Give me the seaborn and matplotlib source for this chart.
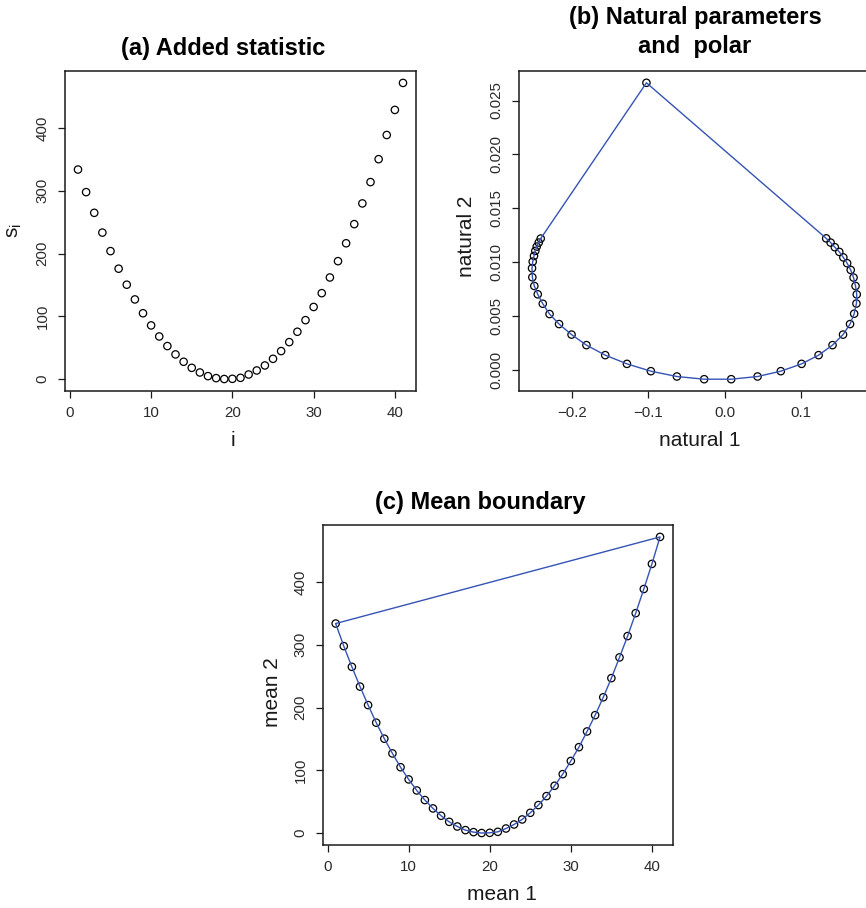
import numpy as np
import pandas as pd
import matplotlib
matplotlib.use("Agg")
import matplotlib.pyplot as plt
import seaborn as sns

# ---------------- data ----------------
idx = list(range(1, 42))
s_vals = [334, 298, 265, 233.5, 204, 176, 150.5, 127, 105, 85.6,
          68, 52.7, 39.4, 27.7, 18, 10.6, 4.8, 1.6, 0.2, 0.5,
          2.1, 7.4, 13.8, 21.8, 32.4, 44.7, 59, 75.5, 94, 115,
          137, 162, 188, 216.5, 247, 280, 314, 350.5, 389, 429, 472]

nat1 = [-0.2413, -0.2439, -0.2465, -0.2484, -0.2501, -0.2518, -0.2527, -0.2523,
        -0.2497, -0.2452, -0.2386, -0.2297, -0.2172, -0.2008, -0.1813, -0.1566,
        -0.1281, -0.0967, -0.0625, -0.0267,
        0.0088, 0.0434, 0.0739, 0.1012, 0.1235, 0.1418, 0.1556, 0.1648,
        0.1702, 0.1732, 0.1736, 0.1720, 0.1694, 0.1657, 0.1610, 0.1560,
        0.1507, 0.1448, 0.1393, 0.1335,
        -0.1025]
nat2 = [0.012203, 0.011831, 0.011460, 0.011060, 0.010595, 0.010065, 0.009452, 0.008616,
        0.007807, 0.007036, 0.006162, 0.005205, 0.004275, 0.003299, 0.002324, 0.001394,
        0.000586, -0.000093, -0.000586, -0.000836,
        -0.000836, -0.000586, -0.000093, 0.000586, 0.001394, 0.002324, 0.003299, 0.004275,
        0.005233, 0.006180, 0.007026, 0.007807, 0.008588, 0.009294, 0.009917, 0.010456,
        0.010967, 0.011404, 0.011831, 0.012222,
        0.026646]

x_ticks_a = [0, 10, 20, 30, 40]
y_ticks_a = [0, 100, 200, 300, 400]
x_ticks_b = [-0.2, -0.1, 0.0, 0.1]
y_ticks_b = [0.000, 0.005, 0.010, 0.015, 0.020, 0.025]

# ---------------- style ----------------
sns.set_style("ticks")
plt.rcParams['font.family'] = ['Liberation Sans', 'DejaVu Sans']
plt.rcParams['mathtext.fontset'] = 'custom'
plt.rcParams['mathtext.rm'] = 'Liberation Sans'
plt.rcParams['mathtext.it'] = 'Liberation Sans'

W, H = 866, 908
DPI = 100
fig = plt.figure(figsize=(W / DPI, H / DPI), dpi=DPI)
fig.patch.set_facecolor('white')

BLUE = "#3553B5"
INK = "#1a1a1a"
TICK_FS = 10.8
LAB_FS = 15
TITLE_FS = 17


def add_ax(l, r, t, b):
    return fig.add_axes([l / W, 1 - b / H, (r - l) / W, (b - t) / H])


def style_ax(ax, xt, yt, yfmt=None, xfmt=None):
    for sp in ax.spines.values():
        sp.set_visible(True)
        sp.set_color(INK)
        sp.set_linewidth(1.1)
    ax.set_xticks(xt)
    ax.set_yticks(yt)
    ax.set_xticklabels([xfmt(v) if xfmt else str(v) for v in xt], fontsize=TICK_FS, color='#2a2a2a')
    ax.set_yticklabels([yfmt(v) if yfmt else str(v) for v in yt], fontsize=TICK_FS,
                       rotation=90, va='center', color='#2a2a2a')
    ax.tick_params(axis='both', direction='out', length=5, width=0.9, color=INK, pad=6)
    ax.grid(False)


def ftext(x, y, s, **kw):
    fig.text(x / W, 1 - y / H, s, **kw)


circ = dict(marker='o', s=28, facecolor='none', edgecolor='black', linewidth=0.9)

# ---------------- (a) ----------------
ax_a = add_ax(65, 416, 71, 391)
df_a = pd.DataFrame({'i': idx, 's': s_vals})
sns.scatterplot(data=df_a, x='i', y='s', ax=ax_a, **circ)
ax_a.set_xlim(-0.6, 42.6)
ax_a.set_ylim(-18.9, 491)
style_ax(ax_a, x_ticks_a, y_ticks_a)
ax_a.set_xlabel('')
ax_a.set_ylabel('')
ftext(223, 55, '(a) Added statistic', ha='center', va='baseline', fontsize=TITLE_FS,
      fontweight='bold', color='black')
ftext(233, 440, 'i', ha='center', va='center', fontsize=LAB_FS, color=INK)
ftext(15, 231, r'$\mathregular{s_i}$', ha='center', va='center', fontsize=LAB_FS, rotation=90, color=INK)

# ---------------- (b) ----------------
ax_b = add_ax(519, 870, 71, 391)
df_b = pd.DataFrame({'n1': nat1, 'n2': nat2})
df_b_closed = pd.concat([df_b, df_b.iloc[[0]]], ignore_index=True)
sns.lineplot(data=df_b_closed, x='n1', y='n2', sort=False, estimator=None,
             color=BLUE, linewidth=1.0, ax=ax_b)
sns.scatterplot(data=df_b, x='n1', y='n2', ax=ax_b, **circ)
ax_b.set_xlim(-0.2698, 0.1910)
ax_b.set_ylim(-0.00193, 0.02774)
style_ax(ax_b, x_ticks_b, y_ticks_b,
         yfmt=lambda v: f"{v:.3f}", xfmt=lambda v: f"{v:.1f}".replace('-', '\u2212'))
ax_b.set_xlabel('')
ax_b.set_ylabel('')
ftext(695, 24, '(b) Natural parameters', ha='center', va='baseline', fontsize=TITLE_FS,
      fontweight='bold', color='black')
ftext(695, 52.7, 'and  polar', ha='center', va='baseline', fontsize=TITLE_FS,
      fontweight='bold', color='black')
ftext(700, 441, 'natural 1', ha='center', va='center', fontsize=LAB_FS, color=INK)
ftext(467, 236, 'natural 2', ha='center', va='center', fontsize=LAB_FS, rotation=90, color=INK)

# ---------------- (c) ----------------
ax_c = add_ax(322.7, 673, 525, 845)
df_c = pd.DataFrame({'m1': idx, 'm2': s_vals})
df_c_closed = pd.concat([df_c, df_c.iloc[[0]]], ignore_index=True)
sns.lineplot(data=df_c_closed, x='m1', y='m2', sort=False, estimator=None,
             color=BLUE, linewidth=1.0, ax=ax_c)
sns.scatterplot(data=df_c, x='m1', y='m2', ax=ax_c, **circ)
ax_c.set_xlim(-0.6, 42.6)
ax_c.set_ylim(-18.9, 491)
style_ax(ax_c, x_ticks_a, y_ticks_a)
ax_c.set_xlabel('')
ax_c.set_ylabel('')
ftext(480, 509, '(c) Mean boundary', ha='center', va='baseline', fontsize=TITLE_FS,
      fontweight='bold', color='black')
ftext(502, 895, 'mean 1', ha='center', va='center', fontsize=LAB_FS, color=INK)
ftext(272, 692, 'mean 2', ha='center', va='center', fontsize=LAB_FS, rotation=90, color=INK)

fig.savefig('out.png', dpi=DPI, facecolor='white')
